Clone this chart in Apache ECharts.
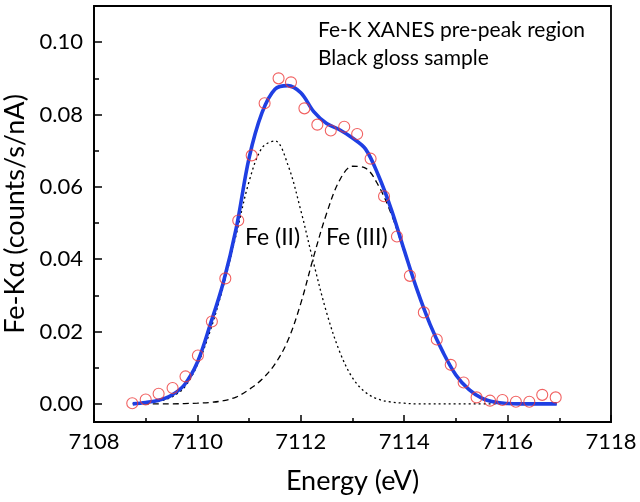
<!DOCTYPE html>
<html>
<head>
<meta charset="utf-8">
<script src="https://cdn.jsdelivr.net/npm/echarts@6/dist/echarts.min.js"></script>
<style>
    html, body { margin: 0; padding: 0; background: #fff; }
    #main { width: 640px; height: 502px; }
</style>
</head>
<body>
<div id="main"></div>
<script>
    // measured points (red circles)
    var expEnergy = [7108.74, 7109.00, 7109.25, 7109.52, 7109.77, 7110.01, 7110.28, 7110.54, 7110.79, 7111.05,
        7111.30, 7111.57, 7111.81, 7112.07, 7112.32, 7112.58, 7112.84, 7113.09, 7113.35, 7113.61,
        7113.86, 7114.11, 7114.38, 7114.63, 7114.90, 7115.15, 7115.40, 7115.66, 7115.90, 7116.16,
        7116.42, 7116.67, 7116.93];
    var expIntensity = [0.0002, 0.0012, 0.0028, 0.0044, 0.0076, 0.0134, 0.0228, 0.0347, 0.0507, 0.0687,
        0.0831, 0.0900, 0.0889, 0.0817, 0.0772, 0.0756, 0.0766, 0.0746, 0.0678, 0.0574,
        0.0463, 0.0354, 0.0253, 0.0178, 0.0108, 0.0059, 0.0018, 0.0009, 0.0011, 0.0006,
        0.0006, 0.0025, 0.0018];

    // fit curves
    var fitEnergy = [7108.75, 7109.00, 7109.25, 7109.50, 7109.75, 7110.00, 7110.25, 7110.50, 7110.75, 7111.00,
        7111.25, 7111.50, 7111.75, 7112.00, 7112.25, 7112.50, 7112.75, 7113.00, 7113.25, 7113.50,
        7113.75, 7114.00, 7114.25, 7114.50, 7114.75, 7115.00, 7115.25, 7115.50, 7115.75, 7116.00,
        7116.25, 7116.50, 7116.75, 7116.95];
    var fitTotal = [0.0000, 0.0004, 0.0010, 0.0024, 0.0053, 0.0115, 0.0220, 0.0335, 0.0485, 0.0680,
        0.0805, 0.0870, 0.0880, 0.0860, 0.0808, 0.0775, 0.0758, 0.0735, 0.0705, 0.0632,
        0.0538, 0.0425, 0.0315, 0.0220, 0.0143, 0.0080, 0.0040, 0.0016, 0.0005, 0.0001,
        0.0000, 0.0000, 0.0000, 0.0000];
    var fitFe2 = [0.0001, 0.0002, 0.0007, 0.0019, 0.0046, 0.0108, 0.0203, 0.0325, 0.0468, 0.0615,
        0.0708, 0.0727, 0.0661, 0.0535, 0.0388, 0.0252, 0.0145, 0.0072, 0.0032, 0.0013,
        0.0005, 0.0002, 0.0000, 0.0000, 0.0000, 0.0000, 0.0000, 0.0000, 0.0000, 0.0000,
        0.0000, 0.0000, 0.0000, 0.0000];
    var fitFe3 = [0.0000, 0.0000, 0.0000, 0.0000, 0.0001, 0.0002, 0.0004, 0.0009, 0.0019, 0.0040,
        0.0068, 0.0110, 0.0175, 0.0278, 0.0408, 0.0527, 0.0618, 0.0657, 0.0652, 0.0604,
        0.0525, 0.0420, 0.0313, 0.0219, 0.0143, 0.0080, 0.0040, 0.0016, 0.0005, 0.0001,
        0.0000, 0.0000, 0.0000, 0.0000];

    var yTicks = [0, 0.02, 0.04, 0.06, 0.08, 0.10];
    var yMinorTicks = [0.01, 0.03, 0.05, 0.07, 0.09];

    function pairs(xs, ys) {
        var out = [];
        for (var i = 0; i < xs.length; i++) {
            out.push([xs[i], ys[i]]);
        }
        return out;
    }

    var myChart = echarts.init(document.getElementById('main'));
    var font = 'Lato';

    myChart.setOption({
        backgroundColor: '#fff',
        animation: false,
        textStyle: { fontFamily: font },
        grid: {
            left: 94, right: 29, top: 6, bottom: 80,
            show: true, borderColor: '#000', borderWidth: 1.8,
            outerBoundsMode: 'none'
        },
        xAxis: {
            type: 'value',
            min: 7108, max: 7118, interval: 2,
            name: 'Energy (eV)',
            nameLocation: 'middle',
            nameGap: 46,
            nameTextStyle: { fontSize: 27, color: '#000', fontFamily: font },
            axisLine: { onZero: false, lineStyle: { color: '#000', width: 1.8 } },
            axisTick: { inside: true, length: 7, lineStyle: { color: '#000', width: 1.5 } },
            minorTick: { show: true, splitNumber: 2, length: 4, lineStyle: { color: '#000', width: 1.5 } },
            axisLabel: {
                fontSize: 22, color: '#000', margin: 9, fontFamily: font,
                formatter: function (v) { return String(v); }
            },
            splitLine: { show: false }
        },
        yAxis: [{
            type: 'value',
            min: -0.005, max: 0.110,
            name: 'Fe-K\u03b1 (counts/s/nA)',
            nameLocation: 'middle',
            nameGap: 58,
            nameTextStyle: { fontSize: 27, color: '#000', fontFamily: font },
            axisLine: { show: true, onZero: false, lineStyle: { color: '#000', width: 1.8 } },
            axisTick: { show: true, inside: true, length: 8, customValues: yTicks, lineStyle: { color: '#000', width: 1.5 } },
            axisLabel: {
                fontSize: 22, color: '#000', margin: 11, fontFamily: font,
                customValues: yTicks,
                formatter: function (v) { return v.toFixed(2); }
            },
            splitLine: { show: false }
        }, {
            type: 'value',
            min: -0.005, max: 0.110,
            position: 'left',
            axisLine: { show: false, onZero: false },
            axisTick: { show: true, inside: true, length: 5, customValues: yMinorTicks, lineStyle: { color: '#000', width: 1.5 } },
            axisLabel: { show: false },
            splitLine: { show: false }
        }],
        series: [{
            name: 'Fe (II)',
            type: 'line',
            data: pairs(fitEnergy, fitFe2),
            smooth: 0.35,
            showSymbol: false,
            lineStyle: { color: '#000', width: 1.3, type: [2, 3] },
            z: 2
        }, {
            name: 'Fe (III)',
            type: 'line',
            data: pairs(fitEnergy, fitFe3),
            smooth: 0.35,
            showSymbol: false,
            lineStyle: { color: '#000', width: 1.3, type: [6, 4] },
            z: 2
        }, {
            name: 'fit',
            type: 'line',
            data: pairs(fitEnergy, fitTotal),
            smooth: 0.35,
            showSymbol: false,
            lineStyle: { color: '#1f3fe3', width: 3.6 },
            z: 3
        }, {
            name: 'data',
            type: 'scatter',
            data: pairs(expEnergy, expIntensity),
            symbol: 'circle',
            symbolSize: 11,
            itemStyle: { color: 'rgba(0,0,0,0)', borderColor: '#ee3a3a', borderWidth: 1.1 },
            z: 4
        }],
        graphic: [{
            type: 'text', left: 318, top: 20,
            style: { text: 'Fe-K XANES pre-peak region', font: '21px Lato', fill: '#000' }
        }, {
            type: 'text', left: 318, top: 48,
            style: { text: 'Black gloss sample', font: '21px Lato', fill: '#000' }
        }, {
            type: 'text', left: 245, top: 226,
            style: { text: 'Fe (II)', font: '23px Lato', fill: '#000' }
        }, {
            type: 'text', left: 326, top: 226,
            style: { text: 'Fe (III)', font: '23px Lato', fill: '#000' }
        }]
    });
</script>
</body>
</html>
